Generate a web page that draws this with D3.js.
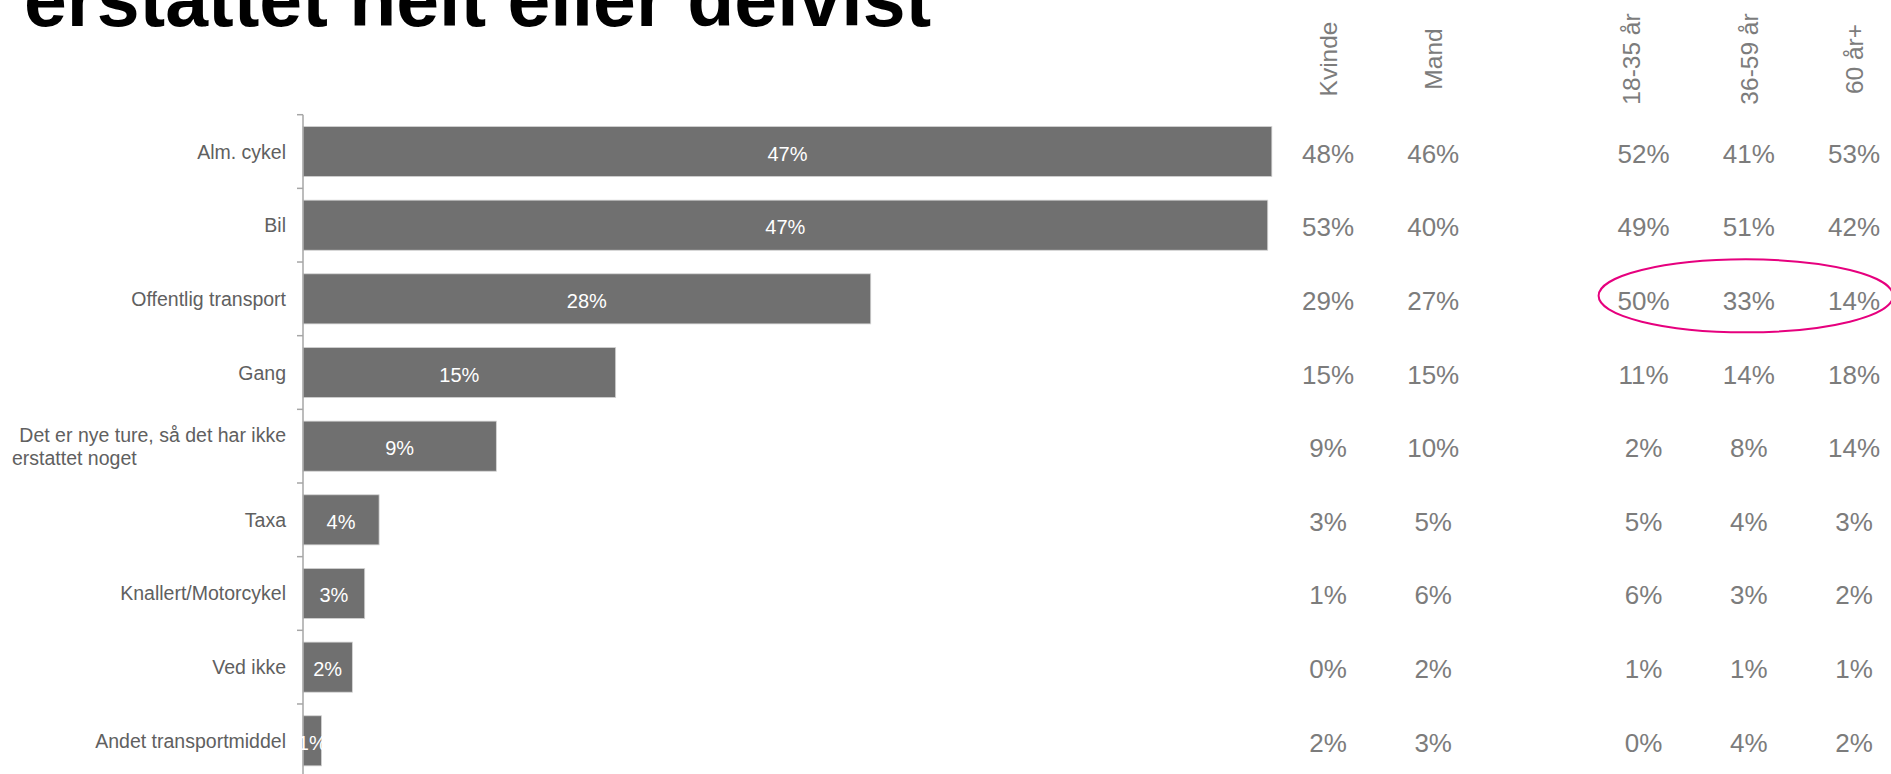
<!DOCTYPE html>
<html>
<head>
<meta charset="utf-8">
<script src="https://cdn.jsdelivr.net/npm/d3@7/dist/d3.min.js"></script>
<style>
  html, body { margin: 0; padding: 0; background: #ffffff; }
  svg { display: block; }
  text { font-family: "Liberation Sans", Arial, sans-serif; }
</style>
</head>
<body>
<svg id="chart" width="1891" height="774"></svg>
<script>
// ---------- DATA ----------
const title = "erstattet helt eller delvist";
const categories = [
  "Alm. cykel",
  "Bil",
  "Offentlig transport",
  "Gang",
  "Det er nye ture, så det har ikke|erstattet noget",
  "Taxa",
  "Knallert/Motorcykel",
  "Ved ikke",
  "Andet transportmiddel"
];
const totalValues = [47.1, 46.9, 27.6, 15.2, 9.4, 3.7, 3.0, 2.4, 0.9];

const groupHeaders = ["Kvinde", "Mand", "18-35 år", "36-59 år", "60 år+"];
const kvinde = [48, 53, 29, 15, 9, 3, 1, 0, 2];
const mand   = [46, 40, 27, 15, 10, 5, 6, 2, 3];
const age1835 = [52, 49, 50, 11, 2, 5, 6, 1, 0];
const age3659 = [41, 51, 33, 14, 8, 4, 3, 1, 4];
const age60   = [53, 42, 14, 18, 14, 3, 2, 1, 2];
const highlightRow = "Offentlig transport";
const highlightCols = ["18-35 år", "60 år+"];

// ---------- LAYOUT ----------
const svg = d3.select("#chart");
const x0 = 303;
const pxPerPct = 20.57;
const x = d3.scaleLinear().domain([0, 50]).range([x0, x0 + 50 * pxPerPct]);
const yTop = 114.7, step = 73.66;
const y = d3.scaleBand()
  .domain(categories)
  .range([yTop, yTop + categories.length * step])
  .paddingInner(0.32)
  .paddingOuter(0.16);

const pct = d3.format(".0f");

// Title
svg.append("text")
  .attr("x", 24).attr("y", 26)
  .attr("font-size", 77).attr("font-weight", "bold")
  .attr("fill", "#000")
  .text(title);

// Bars
const rows = categories.map((c, i) => ({ c, v: totalValues[i] }));
svg.append("g").selectAll("rect").data(rows).join("rect")
  .attr("x", x(0))
  .attr("y", d => y(d.c))
  .attr("width", d => x(d.v) - x(0))
  .attr("height", y.bandwidth())
  .attr("fill", "#707070")
  .attr("stroke", "#d4d4d4")
  .attr("stroke-width", 0.8);

// Axis line & ticks at band boundaries
const axisG = svg.append("g");
axisG.append("line")
  .attr("x1", x(0)).attr("x2", x(0))
  .attr("y1", y.range()[0]).attr("y2", 800)
  .attr("stroke", "#a6a6a6").attr("stroke-width", 1.5);
d3.range(categories.length + 1).forEach(i => {
  const ty = y.range()[0] + i * y.step();
  axisG.append("line")
    .attr("x1", x(0) - 6).attr("x2", x(0))
    .attr("y1", ty).attr("y2", ty)
    .attr("stroke", "#a6a6a6").attr("stroke-width", 1.5);
});

// Category labels
const labG = svg.append("g");
rows.forEach(d => {
  const cy = y(d.c) + y.bandwidth() / 2;
  const lines = d.c.split("|");
  if (lines.length === 1) {
    labG.append("text")
      .attr("x", x(0) - 17).attr("y", cy + 7)
      .attr("text-anchor", "end")
      .attr("font-size", 19.5).attr("fill", "#606060")
      .text(lines[0]);
  } else {
    labG.append("text")
      .attr("x", x(0) - 17).attr("y", cy - 4)
      .attr("text-anchor", "end")
      .attr("font-size", 19.5).attr("fill", "#606060")
      .text(lines[0]);
    labG.append("text")
      .attr("x", 12).attr("y", cy + 19)
      .attr("text-anchor", "start")
      .attr("font-size", 19.5).attr("fill", "#606060")
      .text(lines[1]);
  }
});

// Bar value labels
svg.append("g").selectAll("text").data(rows).join("text")
  .attr("x", d => (x(0) + x(d.v)) / 2)
  .attr("y", d => y(d.c) + y.bandwidth() / 2 + 9)
  .attr("text-anchor", "middle")
  .attr("font-size", 20).attr("fill", "#ffffff")
  .text(d => pct(d.v) + "%");

// Table columns
const colSeries = [kvinde, mand, age1835, age3659, age60];
const colSlot = [0, 1, 3, 4, 5];
const colScale = d3.scaleLinear().domain([0, 5]).range([1328, 1854]);
const headerNudge = [0, 0, -13, 0, 0];

const tableG = svg.append("g");
groupHeaders.forEach((h, j) => {
  const cx = colScale(colSlot[j]);
  tableG.append("text")
    .attr("transform", `translate(${cx + headerNudge[j] + 9},59) rotate(-90)`)
    .attr("text-anchor", "middle")
    .attr("font-size", 24.5).attr("fill", "#7c7c7c")
    .text(h);
  colSeries[j].forEach((v, i) => {
    tableG.append("text")
      .attr("x", cx)
      .attr("y", y(categories[i]) + y.bandwidth() / 2 + 11)
      .attr("text-anchor", "middle")
      .attr("font-size", 26).attr("fill", "#7c7c7c")
      .text(v + "%");
  });
});

// Highlight ellipse
const c1 = colScale(colSlot[groupHeaders.indexOf(highlightCols[0])]);
const c2 = colScale(colSlot[groupHeaders.indexOf(highlightCols[1])]);
const hy = y(highlightRow) + y.bandwidth() / 2;
svg.append("ellipse")
  .attr("cx", (c1 + c2) / 2 - 3)
  .attr("cy", hy - 3)
  .attr("rx", (c2 - c1) / 2 + 42)
  .attr("ry", 36.5)
  .attr("fill", "none")
  .attr("stroke", "#e6007e")
  .attr("stroke-width", 2);
</script>
</body>
</html>
